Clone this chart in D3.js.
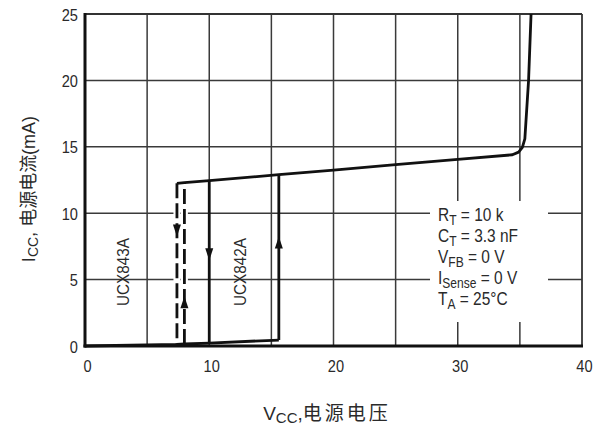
<!DOCTYPE html>
<html>
<head>
<meta charset="utf-8">
<script src="https://cdn.jsdelivr.net/npm/d3@7"></script>
<style>
  body { margin: 0; background: #fff; }
  svg text { font-family: "Liberation Sans", Arial, sans-serif; fill: #2a2a2a; }
  .cjk { font-family: "Noto Sans CJK SC", "Liberation Sans", sans-serif; }
</style>
</head>
<body>
<div class="graph"></div>
<script>
// tamaño del SVG
const width = 601, height = 432

// ejes
const xTicks = [0, 10, 20, 30, 40]
const yTicks = [0, 5, 10, 15, 20, 25]
const xGrid = [5, 10, 15, 20, 25, 30, 35]
const yGrid = [5, 10, 15, 20]

// corriente de arranque (linea inferior)
const baseV = [0, 7.4, 8.0, 10, 15.6]
const baseI = [0, 0.12, 0.15, 0.22, 0.45]

// corriente de operación (linea superior)
const runV = [7.4, 8.0, 10, 15.6, 20, 25, 30, 34.4, 34.9, 35.2, 35.4, 35.7, 35.9]
const runI = [12.25, 12.3, 12.45, 12.9, 13.25, 13.65, 14.05, 14.4, 14.6, 14.95, 15.6, 20, 25]

// umbrales UCX842A (solida) y UCX843A (discontinua)
const ucx842On = 15.6, ucx842Off = 10
const ucx843On = 8.0, ucx843Off = 7.4

// flechas
const arrowV = [7.4, 10, 15.6, 8.0]
const arrowI = [8.7, 6.9, 7.8, 3.3]
const arrowDir = ['down', 'down', 'up', 'up']

// condiciones
const condMain = ['R', 'C', 'V', 'I', 'T']
const condSub = ['T', 'T', 'FB', 'Sense', 'A']
const condRest = [' = 10 k', ' = 3.3 nF', ' = 0 V', ' = 0 V', ' = 25°C']

const svg = d3.select('.graph')
  .append('svg')
  .attr('width', width)
  .attr('height', height)

const xScale = d3.scaleLinear().domain([0, 40]).range([85, 582])
const yScale = d3.scaleLinear().domain([0, 25]).range([346, 14])

// rejilla
svg.append('g')
  .selectAll('line')
  .data(xGrid)
  .enter()
  .append('line')
  .attr('x1', d => xScale(d)).attr('x2', d => xScale(d))
  .attr('y1', yScale(0)).attr('y2', yScale(25))
  .attr('stroke', '#3a3a3a').attr('stroke-width', 1.5)

svg.append('g')
  .selectAll('line')
  .data(yGrid)
  .enter()
  .append('line')
  .attr('x1', xScale(0)).attr('x2', xScale(40))
  .attr('y1', d => yScale(d)).attr('y2', d => yScale(d))
  .attr('stroke', '#3a3a3a').attr('stroke-width', 1.5)

// marco
svg.append('line')
  .attr('x1', xScale(0)).attr('x2', xScale(40))
  .attr('y1', yScale(25)).attr('y2', yScale(25))
  .attr('stroke', '#333').attr('stroke-width', 1.8)
svg.append('line')
  .attr('x1', xScale(40)).attr('x2', xScale(40))
  .attr('y1', yScale(0)).attr('y2', yScale(25))
  .attr('stroke', '#333').attr('stroke-width', 1.8)
svg.append('line')
  .attr('x1', xScale(0)).attr('x2', xScale(0))
  .attr('y1', yScale(0) + 1.5).attr('y2', yScale(25) - 1)
  .attr('stroke', '#111').attr('stroke-width', 3)
svg.append('line')
  .attr('x1', xScale(0) - 1.5).attr('x2', xScale(40) + 1)
  .attr('y1', yScale(0)).attr('y2', yScale(0))
  .attr('stroke', '#111').attr('stroke-width', 3)

// fondo blanco del cuadro de condiciones
svg.append('rect')
  .attr('x', 430).attr('y', 201)
  .attr('width', 118).attr('height', 121)
  .attr('fill', '#fff')

// etiquetas de ticks
svg.append('g')
  .selectAll('text')
  .data(yTicks)
  .enter()
  .append('text')
  .attr('transform', d => `translate(78,${yScale(d) + 6.5}) scale(0.86,1)`)
  .attr('text-anchor', 'end')
  .style('font-size', '17px')
  .text(d => d)

svg.append('g')
  .selectAll('text')
  .data(xTicks)
  .enter()
  .append('text')
  .attr('transform', d => `translate(${xScale(d) + 2.5},372) scale(0.86,1)`)
  .attr('text-anchor', 'middle')
  .style('font-size', '17px')
  .text(d => d)

// curvas
const line = d3.line()
  .x(d => xScale(d[0]))
  .y(d => yScale(d[1]))

const basePts = baseV.map((v, i) => [v, baseI[i]])
const runPts = runV.map((v, i) => [v, runI[i]])
const atBase = v => baseI[baseV.indexOf(v)]
const atRun = v => runI[runV.indexOf(v)]

const dashed843 = [
  [[ucx843Off, atRun(ucx843Off)], [ucx843Off, atBase(ucx843Off)]],
  [[ucx843On, atBase(ucx843On)], [ucx843On, atRun(ucx843On)]]
]

// halo blanco bajo las discontinuas
svg.append('g')
  .selectAll('path')
  .data(dashed843)
  .enter()
  .append('path')
  .attr('d', line)
  .attr('fill', 'none')
  .attr('stroke', '#fff')
  .attr('stroke-width', 7)

svg.append('g')
  .selectAll('path')
  .data(dashed843)
  .enter()
  .append('path')
  .attr('d', line)
  .attr('fill', 'none')
  .attr('stroke', '#111')
  .attr('stroke-width', 2.8)
  .attr('stroke-dasharray', '15,5')

const solid842 = [
  basePts,
  runPts,
  [[ucx842On, atBase(ucx842On)], [ucx842On, atRun(ucx842On)]],
  [[ucx842Off, atRun(ucx842Off)], [ucx842Off, atBase(ucx842Off)]]
]

svg.append('g')
  .selectAll('path')
  .data(solid842)
  .enter()
  .append('path')
  .attr('d', line)
  .attr('fill', 'none')
  .attr('stroke', '#111')
  .attr('stroke-width', 2.8)
  .attr('stroke-linejoin', 'round')

// flechas
svg.append('g')
  .selectAll('path')
  .data(arrowV)
  .enter()
  .append('path')
  .attr('transform', (d, i) => `translate(${xScale(d)},${yScale(arrowI[i])})`)
  .attr('d', (d, i) => arrowDir[i] === 'down' ? 'M-4,-6 L4,-6 L0,6 Z' : 'M-4,6 L4,6 L0,-6 Z')
  .attr('fill', '#111')

// rótulos de los dispositivos
const devices = [['UCX843A', 123], ['UCX842A', 240]]
svg.append('g')
  .selectAll('text')
  .data(devices)
  .enter()
  .append('text')
  .attr('transform', d => `translate(${d[1] + 6},272) rotate(-90) scale(0.9,1)`)
  .attr('text-anchor', 'middle')
  .style('font-size', '17px')
  .text(d => d[0])

// condiciones de prueba
const cond = svg.append('g')
condMain.forEach((m, i) => {
  const t = cond.append('text')
    .attr('transform', `translate(438,${221 + i * 21}) scale(0.86,1)`)
    .style('font-size', '18px')
  t.append('tspan').text(m)
  t.append('tspan').attr('dy', 4).style('font-size', '14px').text(condSub[i])
  t.append('tspan').attr('dy', -4).text(condRest[i])
})

// título eje Y
const yTitle = svg.append('text')
  .attr('transform', 'translate(35,189) rotate(-90)')
  .attr('text-anchor', 'middle')
  .style('font-size', '18px')
yTitle.append('tspan').text('I')
yTitle.append('tspan').attr('dy', 3).style('font-size', '14px').text('CC')
yTitle.append('tspan').attr('dy', -3).text(', ')
yTitle.append('tspan').attr('class', 'cjk').text('电源电流')
yTitle.append('tspan').text('(mA)')

// título eje X
const xTitle = svg.append('text')
  .attr('transform', 'translate(327,420)')
  .attr('text-anchor', 'middle')
  .style('font-size', '19px')
xTitle.append('tspan').text('V')
xTitle.append('tspan').attr('dy', 3).style('font-size', '15px').text('CC')
xTitle.append('tspan').attr('dy', -3).text(',')
xTitle.append('tspan').attr('class', 'cjk').style('letter-spacing', '3px').text('电源电压')
</script>
</body>
</html>
